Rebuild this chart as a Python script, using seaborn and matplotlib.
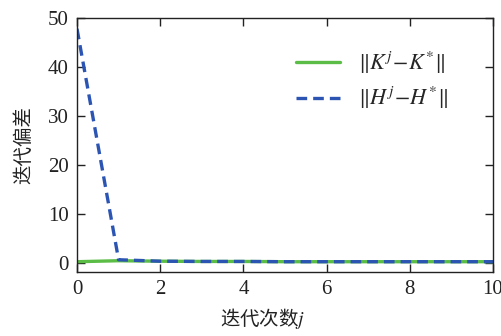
import matplotlib
matplotlib.use("Agg")
import matplotlib.pyplot as plt
import seaborn as sns
import pandas as pd

iterations = [0, 1, 2, 3, 4, 5, 6, 7, 8, 9, 10]
k_dev = [0.3, 0.5, 0.4, 0.35, 0.35, 0.3, 0.3, 0.3, 0.3, 0.3, 0.3]
h_dev = [47.8, 0.7, 0.4, 0.35, 0.35, 0.3, 0.3, 0.3, 0.3, 0.3, 0.3]
x_ticks = [0, 2, 4, 6, 8, 10]
y_ticks = [0, 10, 20, 30, 40, 50]
labels = [r'$\|K^{j}\!-\!K^{*}\|$', r'$\|H^{j}\!-\!H^{*}\|$']

sns.set_theme(style="ticks")
plt.rcParams['font.family'] = ['Liberation Serif', 'Noto Sans CJK SC']
plt.rcParams['mathtext.fontset'] = 'stix'

df = pd.DataFrame({'j': iterations * 2,
                   'v': k_dev + h_dev,
                   's': [labels[0]] * len(k_dev) + [labels[1]] * len(h_dev)})

fig = plt.figure(figsize=(5.02, 3.36), dpi=100)
ax = fig.add_axes([77/502, 1 - 272/336, (493-77)/502, (272-18)/336])
sns.lineplot(data=df, x='j', y='v', hue='s', style='s',
             palette={labels[0]: '#5cbd46', labels[1]: '#2c55b3'},
             dashes={labels[0]: '', labels[1]: (3.2, 1.8)},
             linewidth=2.4, ax=ax)
ax.set_xlim(0, 10)
ax.set_ylim(-1.8, 50)
ax.set_xticks(x_ticks)
ax.set_yticks(y_ticks)
ax.tick_params(direction='in', top=True, right=True, length=6, width=1,
               labelsize=15, colors='#222222', pad=6)
for s in ax.spines.values():
    s.set_linewidth(1.0)
    s.set_color('#222222')
ax.set_xlabel('迭代次数$j$', fontsize=14, family=['Noto Sans CJK SC'], color='#222222')
ax.xaxis.set_label_coords(0.445, -0.135)
ax.xaxis.label.set_va('top')
ax.set_ylabel('迭代偏差', fontsize=14, family=['Noto Sans CJK SC'], color='#222222', labelpad=10)
leg = ax.legend(title=None, frameon=False, fontsize=16, loc='upper right',
                bbox_to_anchor=(0.94, 0.955), handlelength=2.0, labelspacing=0.4)
fig.savefig('out.png', dpi=100)
